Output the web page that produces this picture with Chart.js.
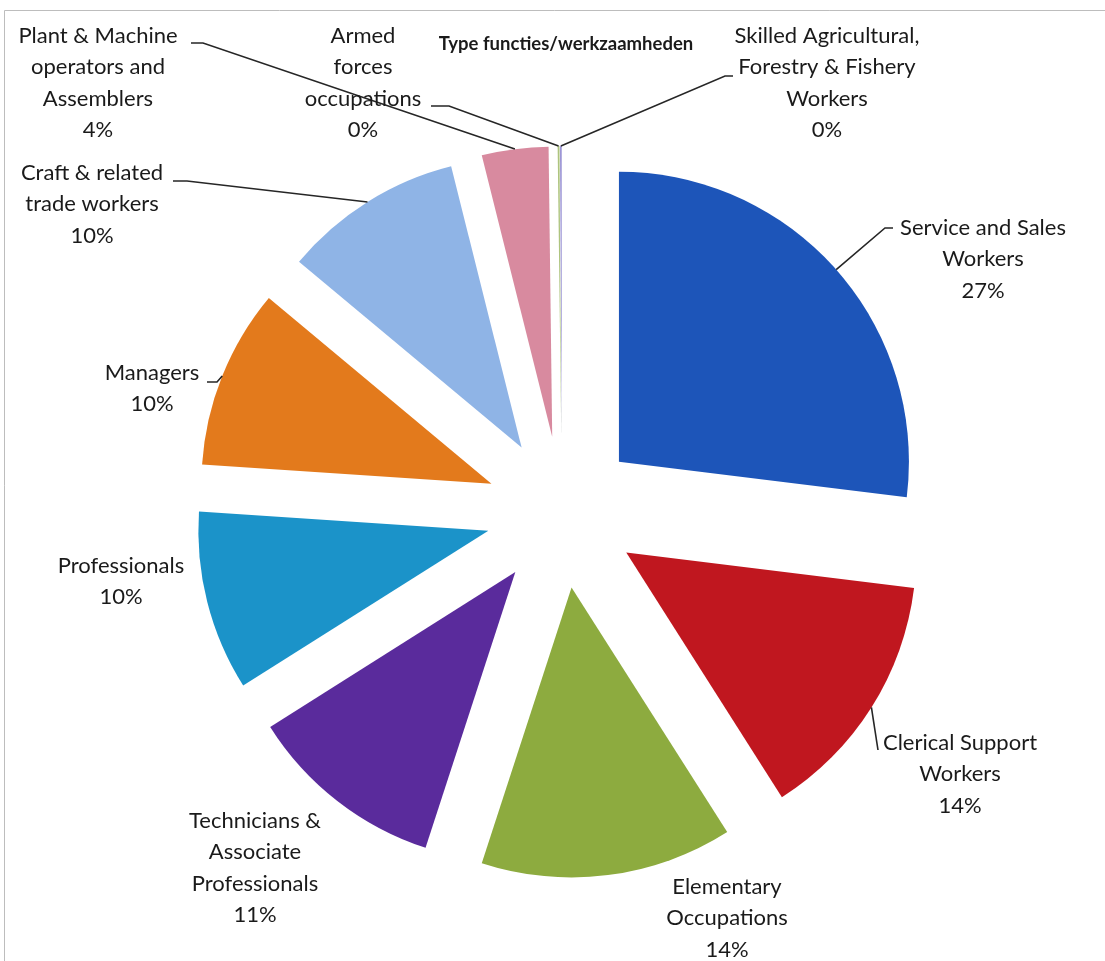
<!DOCTYPE html>
<html>
<head>
<meta charset="utf-8">
<title>Type functies/werkzaamheden</title>
<script src="https://cdn.jsdelivr.net/npm/chart.js@4/dist/chart.umd.min.js"></script>
<style>
  html, body { margin: 0; padding: 0; background: #ffffff; }
  #wrap { position: relative; width: 1105px; height: 961px; }
  canvas { display: block; }
</style>
</head>
<body>
<div id="wrap"><canvas id="pie" width="1105" height="961"></canvas></div>
<script>
// Occupation groups, clockwise from 12 o'clock
const categories = [
  ['Service and Sales', 'Workers'],
  ['Clerical Support', 'Workers'],
  ['Elementary', 'Occupations'],
  ['Technicians &', 'Associate', 'Professionals'],
  ['Professionals'],
  ['Managers'],
  ['Craft & related', 'trade workers'],
  ['Plant & Machine', 'operators and', 'Assemblers'],
  ['Armed', 'forces', 'occupations'],
  ['Skilled Agricultural,', 'Forestry & Fishery', 'Workers']
];

// Share of each group (percent)
const shares = [26.9, 14.0, 14.0, 11.0, 10.0, 10.0, 10.0, 3.7, 0.1, 0.1];

const sliceColors = [
  '#1d55b9', '#c0171f', '#8dab3f', '#5a2b9c', '#1b93c9',
  '#e37a1c', '#8fb4e6', '#d88a9f', '#aec47e', '#9d96d6'
];

const chartTitle = 'Type functies/werkzaamheden';

// Every slice is pulled out from the centre by the same distance (px)
const EXPLODE = 76;

// Label placement: centre x, middle of first line, and leader path from the text
// (tick start, elbow) to the slice edge.
const labelLayout = [
  { x: 983, y: 228, tick: [[893, 228], [885, 228]] },
  { x: 960, y: 743, tick: [[878, 750]] },
  { x: 727, y: 887, tick: null },
  { x: 255, y: 821, tick: null },
  { x: 121, y: 566, tick: null },
  { x: 152, y: 373, tick: [[207, 382], [217, 382]] },
  { x: 92,  y: 173, tick: [[173, 181], [187, 181]] },
  { x: 98,  y: 36,  tick: [[191, 43], [203, 43]] },
  { x: 363, y: 36,  tick: [[431, 106], [449, 106]] },
  { x: 827, y: 36,  tick: [[733, 76], [725, 76]] }
];

const LINE_H = 31.4;
const LABEL_FONT = '22px Lato, "Open Sans", sans-serif';

const total = shares.reduce((a, b) => a + b, 0);

// A plain sector slid straight out along its bisector (classic exploded pie).
const BaseArc = Chart.ArcElement || Chart.registry.getElement('arc');
const BasePie = Chart.PieController || Chart.registry.getController('pie');

class ExplodedArc extends BaseArc {
  draw(ctx) {
    const { x, y, startAngle, endAngle, outerRadius, options } = this;
    if (endAngle <= startAngle || outerRadius <= 0) return;
    const mid = (startAngle + endAngle) / 2;
    const d = options.offset || 0;
    ctx.save();
    ctx.translate(Math.cos(mid) * d, Math.sin(mid) * d);
    ctx.beginPath();
    ctx.moveTo(x, y);
    ctx.arc(x, y, outerRadius, startAngle, endAngle);
    ctx.closePath();
    ctx.fillStyle = options.backgroundColor;
    ctx.fill();
    ctx.restore();
  }
}
ExplodedArc.id = 'explodedArc';
ExplodedArc.defaults = Object.assign({}, BaseArc.defaults);
ExplodedArc.defaultRoutes = BaseArc.defaultRoutes;

class ExplodedPieController extends BasePie {}
ExplodedPieController.id = 'explodedPie';
ExplodedPieController.defaults = { dataElementType: 'explodedArc' };

Chart.register(ExplodedArc, ExplodedPieController);

const framePlugin = {
  id: 'frame',
  beforeDraw(chart) {
    const ctx = chart.ctx;
    ctx.save();
    ctx.strokeStyle = '#bdbdbd';
    ctx.lineWidth = 1;
    ctx.beginPath();
    ctx.moveTo(4.5, 961);
    ctx.lineTo(4.5, 10.5);
    ctx.lineTo(1105, 10.5);
    ctx.stroke();
    ctx.restore();
  }
};

const labelPlugin = {
  id: 'sliceLabels',
  afterDatasetsDraw(chart) {
    const ctx = chart.ctx;
    const meta = chart.getDatasetMeta(0);
    ctx.save();

    // title
    ctx.fillStyle = '#1a1a1a';
    ctx.font = 'bold 18.5px Lato, "Open Sans", sans-serif';
    ctx.textAlign = 'center';
    ctx.textBaseline = 'middle';
    ctx.fillText(chartTitle, 566, 44);

    meta.data.forEach((arc, i) => {
      const lay = labelLayout[i];
      const p = arc.getProps(['x', 'y', 'startAngle', 'endAngle', 'outerRadius'], true);
      const d = arc.options.offset || 0;
      const mid = (p.startAngle + p.endAngle) / 2;
      const ax = p.x + Math.cos(mid) * (d + p.outerRadius);
      const ay = p.y + Math.sin(mid) * (d + p.outerRadius);

      // leader line
      if (lay.tick) {
        ctx.strokeStyle = '#262626';
        ctx.lineWidth = 1.6;
        ctx.beginPath();
        ctx.moveTo(lay.tick[0][0], lay.tick[0][1]);
        for (let k = 1; k < lay.tick.length; k++) ctx.lineTo(lay.tick[k][0], lay.tick[k][1]);
        ctx.lineTo(ax, ay);
        ctx.stroke();
      }

      // text
      const pct = Math.round(shares[i] / total * 100) + '%';
      const lines = categories[i].concat([pct]);
      ctx.fillStyle = '#1a1a1a';
      ctx.font = LABEL_FONT;
      ctx.textAlign = 'center';
      ctx.textBaseline = 'middle';
      lines.forEach((t, k) => ctx.fillText(t, lay.x, lay.y + k * LINE_H));
    });
    ctx.restore();
  }
};

new Chart(document.getElementById('pie'), {
  type: 'explodedPie',
  data: {
    labels: categories,
    datasets: [{
      data: shares,
      backgroundColor: sliceColors,
      borderWidth: 0,
      offset: EXPLODE,
      hoverOffset: 0,
      clip: false
    }]
  },
  options: {
    responsive: false,
    devicePixelRatio: 1,
    animation: false,
    radius: 290,
    layout: { padding: { left: 200, right: 181, top: 250, bottom: 187 } },
    plugins: {
      legend: { display: false },
      tooltip: { enabled: false },
      title: { display: false }
    },
    events: []
  },
  plugins: [framePlugin, labelPlugin]
});
</script>
</body>
</html>
